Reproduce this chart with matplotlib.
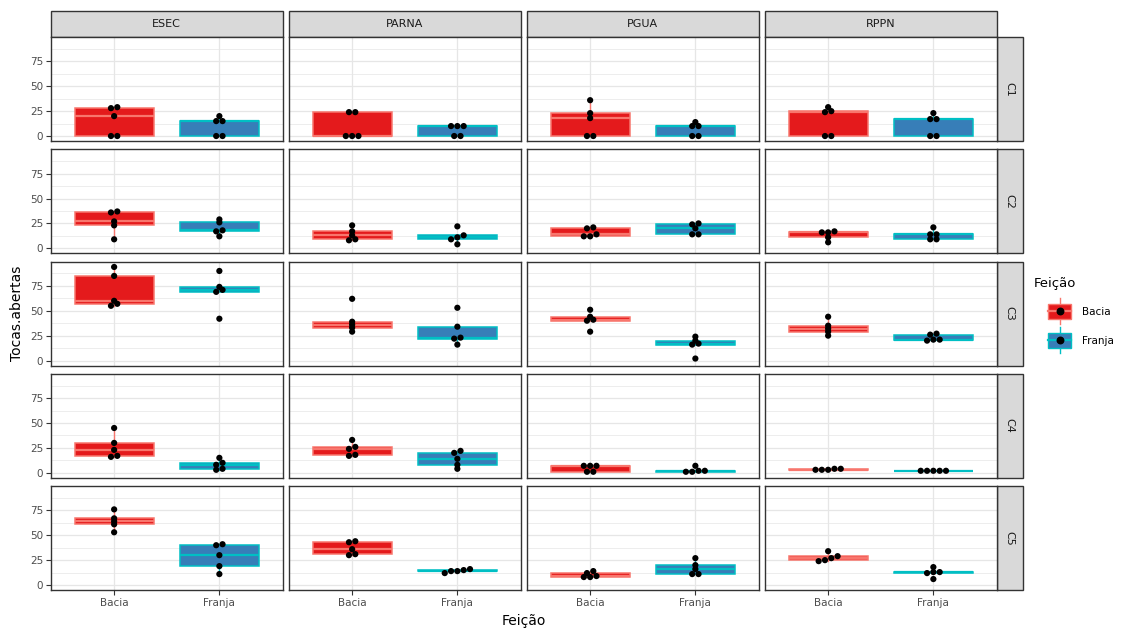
import numpy as np
import matplotlib.pyplot as plt
from matplotlib.patches import Rectangle

W, H = 1126, 635

SITES = ["ESEC", "PARNA", "PGUA", "RPPN"]
CAMPAIGNS = ["C1", "C2", "C3", "C4", "C5"]
FEATURES = ["Bacia", "Franja"]
YTICKS = [0, 25, 50, 75]

# open burrows per plot, one list per campaign (C1..C5)
ESEC_BACIA = [[0, 0, 20, 28, 29], [9, 23, 27, 36, 37], [55, 57, 60, 85, 94], [16, 17, 23, 30, 45], [53, 61, 64, 67, 76]]
ESEC_FRANJA = [[0, 0, 15, 15, 20], [12, 17, 18, 26, 29], [42, 69, 71, 74, 90], [3, 4, 8, 10, 15], [11, 19, 30, 40, 41]]
PARNA_BACIA = [[0, 0, 0, 24, 24], [8, 9, 13, 17, 23], [29, 33, 36, 39, 62], [17, 18, 24, 26, 33], [30, 31, 36, 43, 44]]
PARNA_FRANJA = [[0, 0, 10, 10, 10], [4, 9, 11, 13, 22], [16, 22, 23, 34, 53], [4, 8, 14, 20, 22], [12, 14, 14, 15, 16]]
PGUA_BACIA = [[0, 0, 18, 23, 36], [12, 12, 14, 20, 21], [29, 40, 41, 44, 51], [1, 1, 7, 7, 7], [8, 8, 9, 12, 14]]
PGUA_FRANJA = [[0, 0, 10, 10, 14], [14, 14, 20, 24, 25], [2, 16, 17, 20, 24], [1, 1, 2, 2, 7], [11, 11, 16, 20, 27]]
RPPN_BACIA = [[0, 0, 24, 25, 29], [6, 11, 16, 16, 17], [25, 29, 32, 35, 44], [3, 3, 3, 4, 4], [24, 25, 27, 29, 34]]
RPPN_FRANJA = [[0, 0, 17, 17, 23], [9, 9, 14, 14, 21], [20, 21, 21, 26, 27], [2, 2, 2, 2, 2], [6, 12, 13, 13, 18]]

DATA = {
    "ESEC": (ESEC_BACIA, ESEC_FRANJA),
    "PARNA": (PARNA_BACIA, PARNA_FRANJA),
    "PGUA": (PGUA_BACIA, PGUA_FRANJA),
    "RPPN": (RPPN_BACIA, RPPN_FRANJA),
}

FILL = ["#E41A1C", "#377EB8"]     # Set1
EDGE = ["#F8766D", "#00BFC4"]     # default hue
BORDER = "#333333"
GRID = "#e6e6e6"
TICKC = "#4d4d4d"

# panel geometry (pixels)
COL_LEFT = [51 + 238 * i for i in range(4)]
ROW_TOP = [37 + 112.25 * i for i in range(5)]
PW, PH = 231.5, 104
STRIP = 26


def spread(values, tol=2.5, step=0.06):
    """Horizontal offsets so that points with close values sit side by side."""
    vals = np.asarray(values, float)
    order = np.argsort(vals)
    offs = np.zeros(len(vals))
    groups = [[order[0]]]
    for a, b in zip(order[:-1], order[1:]):
        if vals[b] - vals[a] <= tol:
            groups[-1].append(b)
        else:
            groups.append([b])
    for g in groups:
        n = len(g)
        for k, idx in enumerate(g):
            offs[idx] = (k - (n - 1) / 2) * step
    return offs


fig = plt.figure(figsize=(W / 100, H / 100), dpi=100)
fig.patch.set_facecolor("white")

# overlay in pixel coordinates for strips, titles and legend
ov = fig.add_axes([0, 0, 1, 1], zorder=0)
ov.set_xlim(0, W)
ov.set_ylim(H, 0)
ov.axis("off")

for c, site in enumerate(SITES):
    ov.add_patch(Rectangle((COL_LEFT[c], 11), PW, STRIP, facecolor="#d9d9d9",
                           edgecolor=BORDER, lw=1.0))
    ov.text(COL_LEFT[c] + PW / 2, 11 + STRIP / 2, site, ha="center", va="center",
            fontsize=8, color="#1a1a1a")
for r, camp in enumerate(CAMPAIGNS):
    ov.add_patch(Rectangle((COL_LEFT[3] + PW, ROW_TOP[r]), STRIP, PH, facecolor="#d9d9d9",
                           edgecolor=BORDER, lw=1.0))
    ov.text(COL_LEFT[3] + PW + STRIP / 2, ROW_TOP[r] + PH / 2, camp, ha="center",
            va="center", rotation=-90, fontsize=8, color="#1a1a1a")

for r, camp in enumerate(CAMPAIGNS):
    for c, site in enumerate(SITES):
        ax = fig.add_axes([COL_LEFT[c] / W, 1 - (ROW_TOP[r] + PH) / H, PW / W, PH / H], zorder=2)
        ax.set_xlim(0.4, 2.6)
        ax.set_ylim(-5, 99.5)
        ax.set_yticks(YTICKS)
        ax.set_yticks([12.5, 37.5, 62.5, 87.5], minor=True)
        ax.set_xticks([1, 2])
        ax.grid(True, which="major", color=GRID, lw=0.9)
        ax.grid(True, which="minor", axis="y", color=GRID, lw=0.5)
        ax.set_axisbelow(True)
        for sp in ax.spines.values():
            sp.set_color(BORDER)
            sp.set_linewidth(1.0)

        groups = [DATA[site][0][r], DATA[site][1][r]]
        bp = ax.boxplot(groups, positions=[1, 2], widths=0.75, patch_artist=True,
                        showfliers=False, showcaps=False, whis=1.5, manage_ticks=False)
        for k in range(2):
            bp["boxes"][k].set(facecolor=FILL[k], edgecolor=EDGE[k], lw=1.1, zorder=3)
            bp["medians"][k].set(color=EDGE[k], lw=1.6, zorder=4)
            for w in bp["whiskers"][2 * k:2 * k + 2]:
                w.set(color=EDGE[k], lw=1.0, zorder=2.5)

        for k, vals in enumerate(groups):
            xs = k + 1 + spread(vals)
            ax.scatter(xs, vals, s=20, color="black", edgecolors="none", zorder=5)

        ax.tick_params(which="minor", length=0)
        ax.tick_params(which="major", color=BORDER, length=3.5, width=0.8,
                       labelcolor=TICKC, labelsize=7.5, pad=2)
        if c == 0:
            ax.set_yticklabels([str(t) for t in YTICKS])
        else:
            ax.tick_params(axis="y", length=0, labelleft=False)
        if r == len(CAMPAIGNS) - 1:
            ax.set_xticklabels(FEATURES)
        else:
            ax.tick_params(axis="x", length=0, labelbottom=False)

# axis titles
ov.text(17, (ROW_TOP[0] + ROW_TOP[-1] + PH) / 2, "Tocas.abertas", rotation=90,
        ha="center", va="center", fontsize=10, color="black")
ov.text((COL_LEFT[0] + COL_LEFT[3] + PW) / 2, 621, "Feição", ha="center", va="center",
        fontsize=10, color="black")

# legend
ov.text(1034, 283, "Feição", ha="left", va="center", fontsize=9.5, color="black")
for k, (lab, yc) in enumerate(zip(FEATURES, [311, 340])):
    ov.plot([1059.5, 1059.5], [yc - 13, yc + 13], color=EDGE[k], lw=1.0, zorder=1)
    ov.add_patch(Rectangle((1048, yc - 7.5), 23, 15, facecolor=FILL[k], edgecolor=EDGE[k],
                           lw=1.0, zorder=2))
    ov.plot([1048, 1071], [yc, yc], color=EDGE[k], lw=1.6, zorder=3)
    ov.scatter([1059.5], [yc], s=22, color="black", zorder=4)
    ov.text(1082, yc + 1, lab, ha="left", va="center", fontsize=7.5, color="black")

fig.savefig("out.png", dpi=100)
